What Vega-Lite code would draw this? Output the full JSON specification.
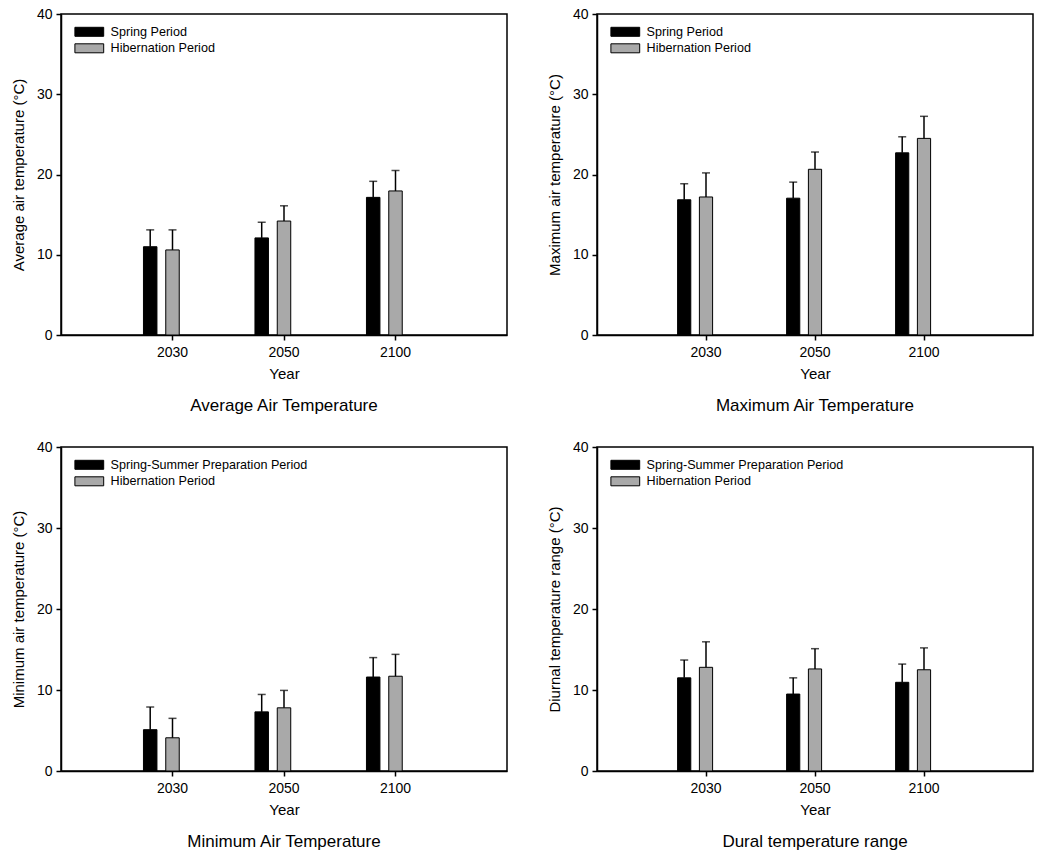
{
  "$schema": "https://vega.github.io/schema/vega-lite/v6.json",
  "padding": {"left": 10, "top": 6, "right": 5, "bottom": 5},
  "background": "white",
  "columns": 2,
  "bounds": "flush",
  "spacing": {"column": 90, "row": 112},
  "datasets": {
    "avg": [
      {"year": "2030", "period": "Spring Period", "value": 11.0, "upper": 13.1},
      {"year": "2030", "period": "Hibernation Period", "value": 10.6, "upper": 13.1},
      {"year": "2050", "period": "Spring Period", "value": 12.1, "upper": 14.05},
      {"year": "2050", "period": "Hibernation Period", "value": 14.2, "upper": 16.1},
      {"year": "2100", "period": "Spring Period", "value": 17.15, "upper": 19.15},
      {"year": "2100", "period": "Hibernation Period", "value": 17.95, "upper": 20.5}
    ],
    "max": [
      {"year": "2030", "period": "Spring Period", "value": 16.85, "upper": 18.85},
      {"year": "2030", "period": "Hibernation Period", "value": 17.2, "upper": 20.2},
      {"year": "2050", "period": "Spring Period", "value": 17.05, "upper": 19.05},
      {"year": "2050", "period": "Hibernation Period", "value": 20.65, "upper": 22.8},
      {"year": "2100", "period": "Spring Period", "value": 22.7, "upper": 24.7},
      {"year": "2100", "period": "Hibernation Period", "value": 24.5, "upper": 27.25}
    ],
    "min": [
      {"year": "2030", "period": "Spring-Summer Preparation Period", "value": 5.1, "upper": 7.9},
      {"year": "2030", "period": "Hibernation Period", "value": 4.1, "upper": 6.5},
      {"year": "2050", "period": "Spring-Summer Preparation Period", "value": 7.3, "upper": 9.45},
      {"year": "2050", "period": "Hibernation Period", "value": 7.8, "upper": 9.95},
      {"year": "2100", "period": "Spring-Summer Preparation Period", "value": 11.6, "upper": 14.0},
      {"year": "2100", "period": "Hibernation Period", "value": 11.7, "upper": 14.4}
    ],
    "dtr": [
      {"year": "2030", "period": "Spring-Summer Preparation Period", "value": 11.5, "upper": 13.7},
      {"year": "2030", "period": "Hibernation Period", "value": 12.8, "upper": 15.95},
      {"year": "2050", "period": "Spring-Summer Preparation Period", "value": 9.5, "upper": 11.5},
      {"year": "2050", "period": "Hibernation Period", "value": 12.6, "upper": 15.1},
      {"year": "2100", "period": "Spring-Summer Preparation Period", "value": 10.95, "upper": 13.2},
      {"year": "2100", "period": "Hibernation Period", "value": 12.5, "upper": 15.2}
    ]
  },
  "resolve": {
    "scale": {"color": "independent", "xOffset": "independent", "x": "independent", "y": "independent"},
    "legend": {"color": "independent"}
  },
  "concat": [
    {
      "width": 446, "height": 321,
      "data": {"name": "avg"},
      "title": {"text": "Average Air Temperature", "orient": "bottom"},
      "encoding": {
        "x": {"field": "year", "type": "nominal", "title": "Year", "scale": {"paddingInner": 0, "paddingOuter": 0.5}},
        "xOffset": {"field": "period", "type": "nominal", "scale": {"domain": ["_a", "Spring Period", "Hibernation Period", "_b", "_c"], "paddingInner": 0.395, "paddingOuter": 0.1975}}
      },
      "layer": [
        {
          "mark": {"type": "bar", "stroke": "black", "strokeWidth": 1},
          "encoding": {
            "y": {"field": "value", "type": "quantitative", "stack": null, "title": "Average air temperature (°C)", "scale": {"domain": [0, 40], "nice": false}, "axis": {"values": [0, 10, 20, 30, 40]}},
            "color": {"field": "period", "type": "nominal", "scale": {"domain": ["Spring Period", "Hibernation Period"], "range": ["#000000", "#a9a9a9"]},
              "legend": {"title": null, "orient": "none", "legendX": 22, "legendY": 11.5}}
          }
        },
        {
          "mark": {"type": "rule", "color": "black", "strokeWidth": 1.5},
          "encoding": {"y": {"field": "value", "type": "quantitative", "title": "Average air temperature (°C)"}, "y2": {"field": "upper"}}
        },
        {
          "mark": {"type": "tick", "color": "black", "thickness": 1.5, "size": 8, "orient": "horizontal"},
          "encoding": {"y": {"field": "upper", "type": "quantitative", "title": "Average air temperature (°C)"}}
        }
      ]
    },
    {
      "width": 436, "height": 321,
      "data": {"name": "max"},
      "title": {"text": "Maximum Air Temperature", "orient": "bottom"},
      "encoding": {
        "x": {"field": "year", "type": "nominal", "title": "Year", "scale": {"paddingInner": 0, "paddingOuter": 0.5}},
        "xOffset": {"field": "period", "type": "nominal", "scale": {"domain": ["_a", "Spring Period", "Hibernation Period", "_b", "_c"], "paddingInner": 0.395, "paddingOuter": 0.1975}}
      },
      "layer": [
        {
          "mark": {"type": "bar", "stroke": "black", "strokeWidth": 1},
          "encoding": {
            "y": {"field": "value", "type": "quantitative", "stack": null, "title": "Maximum air temperature (°C)", "scale": {"domain": [0, 40], "nice": false}, "axis": {"values": [0, 10, 20, 30, 40]}},
            "color": {"field": "period", "type": "nominal", "scale": {"domain": ["Spring Period", "Hibernation Period"], "range": ["#000000", "#a9a9a9"]},
              "legend": {"title": null, "orient": "none", "legendX": 22, "legendY": 11.5}}
          }
        },
        {
          "mark": {"type": "rule", "color": "black", "strokeWidth": 1.5},
          "encoding": {"y": {"field": "value", "type": "quantitative", "title": "Maximum air temperature (°C)"}, "y2": {"field": "upper"}}
        },
        {
          "mark": {"type": "tick", "color": "black", "thickness": 1.5, "size": 8, "orient": "horizontal"},
          "encoding": {"y": {"field": "upper", "type": "quantitative", "title": "Maximum air temperature (°C)"}}
        }
      ]
    },
    {
      "width": 446, "height": 324,
      "data": {"name": "min"},
      "title": {"text": "Minimum Air Temperature", "orient": "bottom"},
      "encoding": {
        "x": {"field": "year", "type": "nominal", "title": "Year", "scale": {"paddingInner": 0, "paddingOuter": 0.5}},
        "xOffset": {"field": "period", "type": "nominal", "scale": {"domain": ["_a", "Spring-Summer Preparation Period", "Hibernation Period", "_b", "_c"], "paddingInner": 0.395, "paddingOuter": 0.1975}}
      },
      "layer": [
        {
          "mark": {"type": "bar", "stroke": "black", "strokeWidth": 1},
          "encoding": {
            "y": {"field": "value", "type": "quantitative", "stack": null, "title": "Minimum air temperature (°C)", "scale": {"domain": [0, 40], "nice": false}, "axis": {"values": [0, 10, 20, 30, 40]}},
            "color": {"field": "period", "type": "nominal", "scale": {"domain": ["Spring-Summer Preparation Period", "Hibernation Period"], "range": ["#000000", "#a9a9a9"]},
              "legend": {"title": null, "orient": "none", "legendX": 22, "legendY": 11.5}}
          }
        },
        {
          "mark": {"type": "rule", "color": "black", "strokeWidth": 1.5},
          "encoding": {"y": {"field": "value", "type": "quantitative", "title": "Minimum air temperature (°C)"}, "y2": {"field": "upper"}}
        },
        {
          "mark": {"type": "tick", "color": "black", "thickness": 1.5, "size": 8, "orient": "horizontal"},
          "encoding": {"y": {"field": "upper", "type": "quantitative", "title": "Minimum air temperature (°C)"}}
        }
      ]
    },
    {
      "width": 436, "height": 324,
      "data": {"name": "dtr"},
      "title": {"text": "Dural temperature range", "orient": "bottom"},
      "encoding": {
        "x": {"field": "year", "type": "nominal", "title": "Year", "scale": {"paddingInner": 0, "paddingOuter": 0.5}},
        "xOffset": {"field": "period", "type": "nominal", "scale": {"domain": ["_a", "Spring-Summer Preparation Period", "Hibernation Period", "_b", "_c"], "paddingInner": 0.395, "paddingOuter": 0.1975}}
      },
      "layer": [
        {
          "mark": {"type": "bar", "stroke": "black", "strokeWidth": 1},
          "encoding": {
            "y": {"field": "value", "type": "quantitative", "stack": null, "title": "Diurnal temperature range (°C)", "scale": {"domain": [0, 40], "nice": false}, "axis": {"values": [0, 10, 20, 30, 40]}},
            "color": {"field": "period", "type": "nominal", "scale": {"domain": ["Spring-Summer Preparation Period", "Hibernation Period"], "range": ["#000000", "#a9a9a9"]},
              "legend": {"title": null, "orient": "none", "legendX": 22, "legendY": 11.5}}
          }
        },
        {
          "mark": {"type": "rule", "color": "black", "strokeWidth": 1.5},
          "encoding": {"y": {"field": "value", "type": "quantitative", "title": "Diurnal temperature range (°C)"}, "y2": {"field": "upper"}}
        },
        {
          "mark": {"type": "tick", "color": "black", "thickness": 1.5, "size": 8, "orient": "horizontal"},
          "encoding": {"y": {"field": "upper", "type": "quantitative", "title": "Diurnal temperature range (°C)"}}
        }
      ]
    }
  ],
  "config": {
    "font": "Liberation Sans",
    "view": {"stroke": "black", "strokeWidth": 1.5},
    "axis": {"domainColor": "black", "domainWidth": 1.5, "tickColor": "black", "tickWidth": 1.5, "tickSize": 5, "labelColor": "black", "labelFontSize": 14, "titleColor": "black", "titleFontSize": 15, "titleFontWeight": "normal", "grid": false, "labelPadding": 4},
    "axisY": {"titlePadding": 10},
    "axisX": {"labelAngle": 0, "titlePadding": 7, "labelPadding": 5},
    "legend": {"symbolType": "M-3.2,-1H3.2V1H-3.2Z", "symbolSize": 81, "symbolStrokeColor": "black", "symbolStrokeWidth": 1, "labelFontSize": 12.6, "labelColor": "black", "labelOffset": 15, "labelLimit": 0, "rowPadding": 2.5, "padding": 0},
    "title": {"fontSize": 17, "fontWeight": "normal", "color": "black", "offset": 17}
  }
}
